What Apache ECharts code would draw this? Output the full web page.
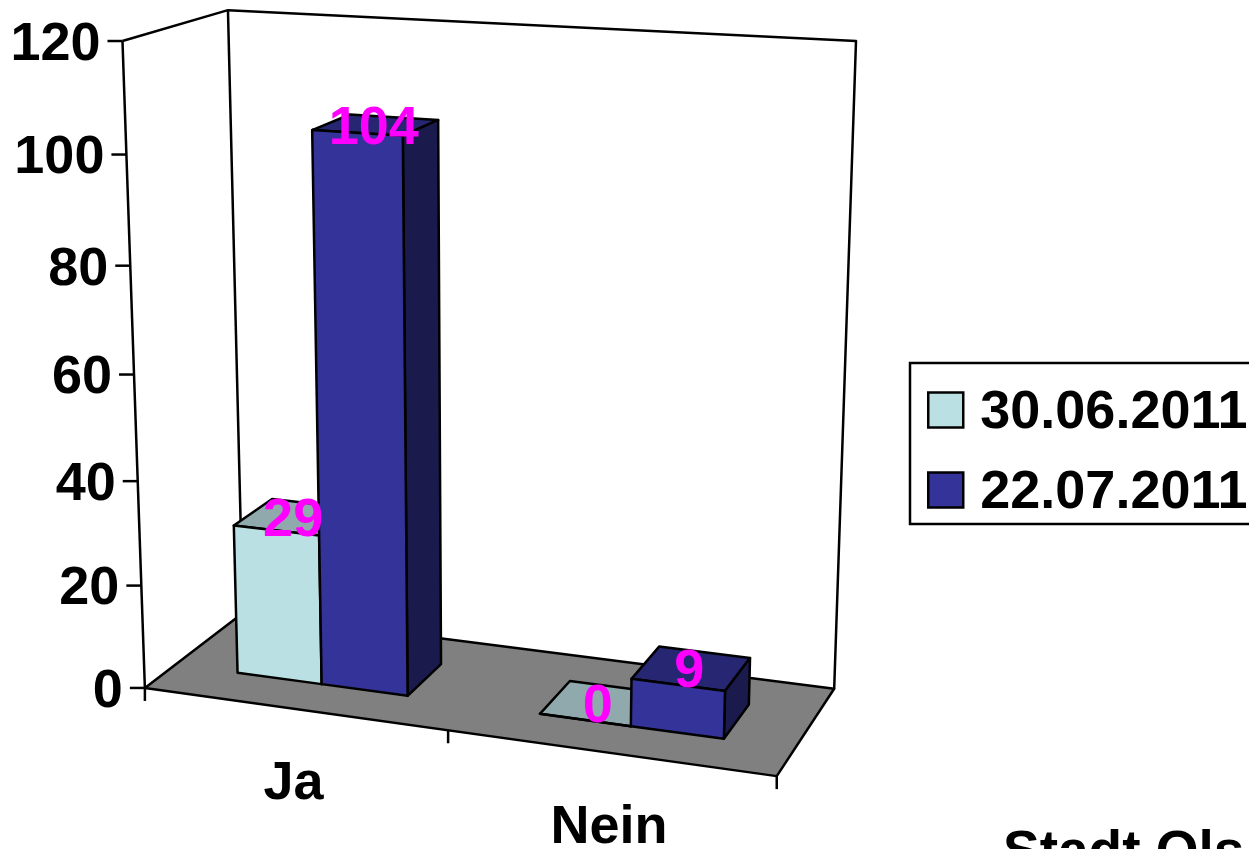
<!DOCTYPE html>
<html>
<head>
<meta charset="utf-8">
<style>html,body{margin:0;padding:0;background:#fff;overflow:hidden}#c{width:1249px;height:849px}</style>
<script src="https://cdn.jsdelivr.net/npm/echarts@6/dist/echarts.min.js"></script>
</head>
<body>
<div id="c"></div>
<script>
// ---- data ----
const categories = ['Ja', 'Nein'];
const seriesNames = ['30.06.2011', '22.07.2011'];
const valuesFirst = [29, 0];
const valuesSecond = [104, 9];
const yTicks = [0, 20, 40, 60, 80, 100, 120];

// ---- 3D view: known screen places of the plot box, (x, value share, depth) -> pixel ----
const viewAnchors = [
  [0, 0, 0, 145, 688], [1, 0, 0, 777, 776], [1, 0, 1, 834, 689], [0, 0, 1, 243, 613],
  [0, 1, 0, 122, 41], [0, 1, 1, 228, 10], [1, 1, 1, 856, 41], [0.5, 0, 0, 448, 730],
  [0, 100 / 120, 0, 127, 155], [0, 20 / 120, 0, 141, 586], [0, 60 / 120, 0, 134, 374]
];
const barHalf = 0.143, zNear = 0.3, zFar = 0.7;
const FONT = { fontFamily: 'Liberation Sans, Arial, sans-serif', fontWeight: 'bold', fontSize: 54 };
const GRID = { left: 0, top: 0, width: 100, height: 100 };

function solve(A, b) {
  const n = b.length;
  for (let i = 0; i < n; i++) {
    let p = i;
    for (let r = i + 1; r < n; r++) if (Math.abs(A[r][i]) > Math.abs(A[p][i])) p = r;
    [A[i], A[p]] = [A[p], A[i]]; [b[i], b[p]] = [b[p], b[i]];
    for (let r = i + 1; r < n; r++) {
      const f = A[r][i] / A[i][i];
      for (let c = i; c < n; c++) A[r][c] -= f * A[i][c];
      b[r] -= f * b[i];
    }
  }
  const x = new Array(n).fill(0);
  for (let i = n - 1; i >= 0; i--) {
    let s = b[i];
    for (let c = i + 1; c < n; c++) s -= A[i][c] * x[c];
    x[i] = s / A[i][i];
  }
  return x;
}
function fitView(pts) {
  const rows = [], rhs = [];
  pts.forEach(([X, Y, Z, u0, v0]) => {
    const u = u0 / 1000, v = v0 / 1000;
    rows.push([X, Y, Z, 1, 0, 0, 0, 0, -u * X, -u * Y, -u * Z]); rhs.push(u);
    rows.push([0, 0, 0, 0, X, Y, Z, 1, -v * X, -v * Y, -v * Z]); rhs.push(v);
  });
  const n = 11, N = [], t = [];
  for (let i = 0; i < n; i++) {
    N.push(new Array(n).fill(0)); t.push(0);
    rows.forEach((r, k) => {
      for (let j = 0; j < n; j++) N[i][j] += r[i] * r[j];
      t[i] += r[i] * rhs[k];
    });
  }
  return solve(N, t);
}
const H = fitView(viewAnchors);
function project(X, Y, Z) {
  const w = H[8] * X + H[9] * Y + H[10] * Z + 1;
  return [1000 * (H[0] * X + H[1] * Y + H[2] * Z + H[3]) / w, 1000 * (H[4] * X + H[5] * Y + H[6] * Z + H[7]) / w];
}
// data value -> pixel of the hidden axes -> share of the box
function shares(api, cat, val) {
  const p = api.coord([cat, val]);
  return [(p[0] - GRID.left) / GRID.width, (GRID.top + GRID.height - p[1]) / GRID.height];
}
const LINE = { stroke: '#000', lineWidth: 2.5, lineJoin: 'round' };
function poly(points, fill) {
  return { type: 'polygon', shape: { points }, style: Object.assign({ fill }, LINE) };
}
function line(points, z2) {
  return { type: 'polyline', shape: { points }, style: Object.assign({ fill: null }, LINE), z2: z2 || 0 };
}
function label(x, y, text, fill, align) {
  return { type: 'text', z2: 100, style: Object.assign({ x, y, text: String(text), fill, align: align || 'center', verticalAlign: 'middle' }, FONT) };
}
function renderFrame(params, api) {
  const c = [];
  c.push(line([project(0, 1, 0), project(0, 1, 1), project(1, 1, 1), project(1, 0, 1)]));
  c.push(line([project(0, 1, 1), project(0, 0, 1)]));
  c.push(line([project(0, 1, 0), project(0, 0, 0)]));
  c.push(poly([project(0, 0, 0), project(1, 0, 0), project(1, 0, 1), project(0, 0, 1)], '#808080'));
  yTicks.forEach(t => {
    const v = shares(api, 0, t)[1], p = project(0, v, 0);
    c.push(line([[p[0] - 15, p[1]], p]));
    c.push(label(p[0] - 22, p[1] + 4, t, '#000', 'right'));
  });
  [0, 0.5, 1].forEach(x => {
    const p = project(x, 0, 0);
    c.push(line([p, [p[0], p[1] + 13]]));
  });
  categories.forEach((name, i) => {
    const s = shares(api, i, 0), p = project(s[0], 0, 0);
    c.push(label(p[0], p[1] + 75, name, '#000'));
  });
  return { type: 'group', children: c };
}
function barRenderer(offset, front, top, side) {
  return function (params, api) {
    const cat = api.value(0), val = api.value(1);
    const s = shares(api, cat, val);
    const x0 = s[0] + offset * barHalf, x1 = x0 + barHalf, h = s[1];
    const c = [
      poly([project(x0, h, zNear), project(x1, h, zNear), project(x1, h, zFar), project(x0, h, zFar)], top),
      poly([project(x1, 0, zNear), project(x1, h, zNear), project(x1, h, zFar), project(x1, 0, zFar)], side),
      poly([project(x0, 0, zNear), project(x1, 0, zNear), project(x1, h, zNear), project(x0, h, zNear)], front)
    ];
    const m = project((x0 + x1) / 2, h, (zNear + zFar) / 2);
    c.push(label(m[0] - 2, m[1] + 4, val, '#FF00FF'));
    return { type: 'group', children: c };
  };
}
const chart = echarts.init(document.getElementById('c'), null, { renderer: 'canvas' });
chart.setOption({
  animation: false,
  backgroundColor: '#fff',
  grid: Object.assign({ show: false }, GRID),
  xAxis: { type: 'category', data: categories, show: false },
  yAxis: { type: 'value', min: 0, max: 120, interval: 20, show: false },
  legend: {
    left: 910, top: 363, orient: 'vertical', selectedMode: false,
    data: seriesNames, icon: 'rect', itemWidth: 35, itemHeight: 35, itemGap: 26,
    padding: [23, 30, 4, 17], borderColor: '#000', borderWidth: 2.5, backgroundColor: '#fff',
    formatter: '{t|{name}}',
    textStyle: Object.assign({ color: '#000', rich: { t: Object.assign({ color: '#000', padding: [6, 0, 0, 12] }, FONT) } }, FONT),
    itemStyle: { borderColor: '#000', borderWidth: 2.5 }
  },
  graphic: [{
    type: 'text', x: 1003, y: 826,
    style: Object.assign({ text: 'Stadt Ols', fill: '#000', align: 'left', verticalAlign: 'top' }, FONT, { fontSize: 55 })
  }],
  series: [
    { type: 'custom', name: 'frame', silent: true, clip: false, data: [[0, 0]], encode: { x: 0, y: 1 }, renderItem: renderFrame },
    { type: 'custom', name: seriesNames[0], clip: false, silent: true, encode: { x: 0, y: 1 },
      itemStyle: { color: '#BBE0E3' },
      data: categories.map((c, i) => [i, valuesFirst[i]]),
      renderItem: barRenderer(-1, '#BBE0E3', '#8FA9AC', '#7F9A9D') },
    { type: 'custom', name: seriesNames[1], clip: false, silent: true, encode: { x: 0, y: 1 },
      itemStyle: { color: '#333399' },
      data: categories.map((c, i) => [i, valuesSecond[i]]),
      renderItem: barRenderer(0, '#333399', '#262673', '#1A1A4D') }
  ]
});
</script>
</body>
</html>
